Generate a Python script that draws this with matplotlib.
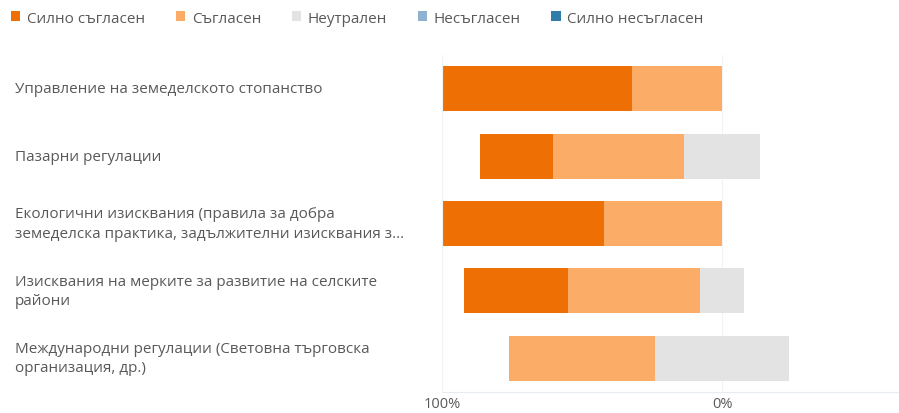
import numpy as np
import matplotlib
matplotlib.use("Agg")
import matplotlib.pyplot as plt

plt.rcParams['font.family'] = ['Open Sans', 'DejaVu Sans']

categories = [
    "Управление на земеделското стопанство",
    "Пазарни регулации",
    "Екологични изисквания (правила за добра\nземеделска практика, задължителни изисквания з...",
    "Изисквания на мерките за развитие на селските\nрайони",
    "Международни регулации (Световна търговска\nорганизация, др.)",
]
series_names = ["Силно съгласен", "Съгласен", "Неутрален", "Несъгласен", "Силно несъгласен"]
strongly_agree = [68, 26, 58, 37, 0]
agree = [32, 47, 42, 47, 52]
neutral = [0, 27, 0, 16, 48]
disagree = [0, 0, 0, 0, 0]
strongly_disagree = [0, 0, 0, 0, 0]
tick_values = [-100, 0]
tick_labels = ["100%", "0%"]

colors = ["#EE7004", "#FBAC66", "#E3E3E3", "#8FB2D1", "#2F7DA8"]
text_color = "#595959"

fig = plt.figure(figsize=(8.99, 4.14), dpi=100)
ax = fig.add_axes([442/899, 1 - 393/414, 1 - 442/899, 337/414])

sa = np.array(strongly_agree, float)
a = np.array(agree, float)
n = np.array(neutral, float)
d = np.array(disagree, float)
sd = np.array(strongly_disagree, float)

start = -(sa + a + n / 2)
y = np.arange(len(categories))
h = 0.67
vals = [sa, a, n, d, sd]
left = start.copy()
for v, c, name in zip(vals, colors, series_names):
    ax.barh(y, v, left=left, height=h, color=c, label=name, linewidth=0)
    left = left + v

ax.set_ylim(len(categories) - 0.5, -0.5)
ax.set_xlim(-100, 63.2)
ax.set_yticks([])
ax.set_xticks(tick_values)
ax.set_xticklabels(tick_labels, color=text_color, fontsize=10.5)
ax.tick_params(axis='x', length=0, pad=3)
for s in ['top', 'right']:
    ax.spines[s].set_visible(False)
ax.spines['left'].set_color("#EEF3F8")
ax.spines['bottom'].set_color("#E6ECF2")
ax.axvline(0, color="#F2F2F2", lw=0.8, zorder=0)

for yi, lab in zip(y, categories):
    ax.annotate(lab, xy=(0, yi), xycoords=('figure fraction', 'data'),
                xytext=(15, 0), textcoords='offset pixels',
                ha='left', va='center', fontsize=11, color=text_color,
                linespacing=1.4, annotation_clip=False)

handles, labels = ax.get_legend_handles_labels()
leg = fig.legend(handles, labels, loc='upper left', bbox_to_anchor=(-0.003, 1.005),
                 ncol=5, frameon=False, fontsize=11, handlelength=0.6,
                 handleheight=0.6, handletextpad=0.45, columnspacing=2.0,
                 labelcolor=text_color)

fig.savefig("out.png", dpi=100, facecolor="white")
